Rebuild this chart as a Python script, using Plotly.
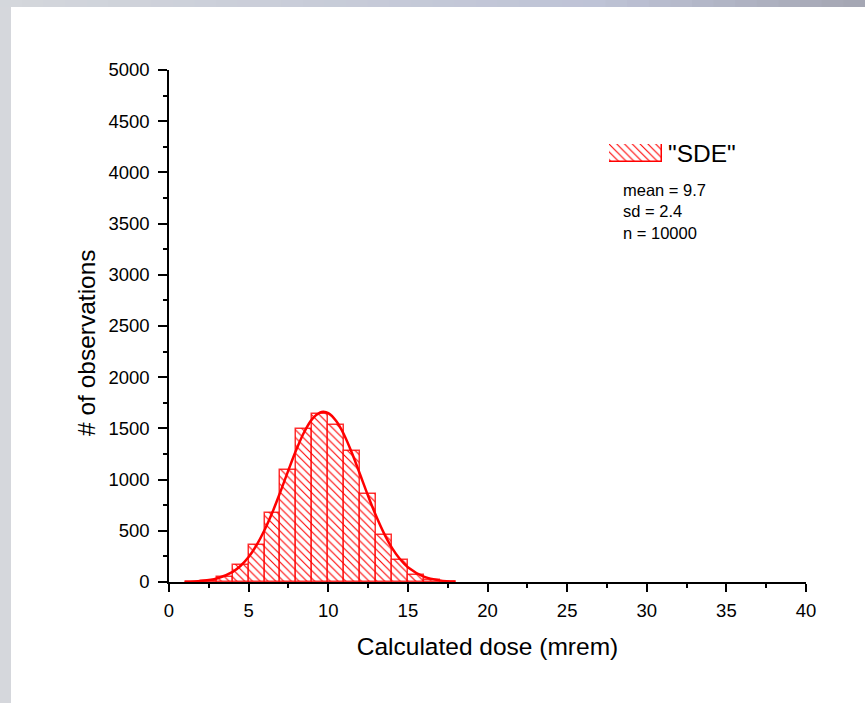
import plotly.graph_objects as go

# ---- data ----
bin_centers = [1.5, 2.5, 3.5, 4.5, 5.5, 6.5, 7.5, 8.5, 9.5, 10.5, 11.5, 12.5, 13.5, 14.5, 15.5, 16.5, 17.5]
counts = [3, 10, 50, 163, 361, 671, 1091, 1492, 1642, 1531, 1283, 863, 459, 215, 68, 16, 3]

fit_x = [1, 2, 3, 4, 4.5, 5, 5.5, 6, 6.5, 7, 7.5, 8, 8.5, 9, 9.5, 9.7, 10, 10.5, 11, 11.5,
         12, 12.5, 13, 13.5, 14, 14.5, 15, 16, 17, 18]
fit_y = [2, 10, 34, 99, 159, 244, 360, 507, 683, 883, 1092, 1293, 1467, 1593, 1656, 1662, 1649, 1572,
         1436, 1255, 1050, 842, 646, 475, 334, 225, 145, 53, 16, 4]

x_ticks = [0, 5, 10, 15, 20, 25, 30, 35, 40]
y_ticks = [0, 500, 1000, 1500, 2000, 2500, 3000, 3500, 4000, 4500, 5000]
series_name = '"SDE"'
stats_text = "mean = 9.7<br>sd = 2.4<br>n = 10000"
x_title = "Calculated dose (mrem)"
y_title = "# of observations"

FONT = "Liberation Sans, Arial, sans-serif"
RED = "#ff0000"
PATTERN = dict(shape="\\", fgcolor=RED, bgcolor="white", size=5.5, solidity=0.2, fillmode="replace")

# page geometry (pixels)
W, H = 865, 703
L, R, T, B = 169, 806, 70, 582
pw, ph = R - L, B - T

def px_x(px):
    return (px - L) / pw

def px_y(py):
    return (B - py) / ph

fig = go.Figure()
fig.add_trace(go.Bar(
    x=bin_centers, y=counts, width=1, name=series_name,
    marker=dict(color="white", line=dict(color="rgba(255,0,0,0.8)", width=1.5), pattern=PATTERN),
    showlegend=False,
))
fig.add_trace(go.Scatter(
    x=fit_x, y=fit_y, mode="lines", line=dict(color=RED, width=2.5, shape="spline"),
    showlegend=False, hoverinfo="skip",
))
# legend key swatch (drawn in its own small hidden axes)
fig.add_trace(go.Bar(
    x=[0], y=[1], width=1, xaxis="x2", yaxis="y2", showlegend=False, hoverinfo="skip",
    marker=dict(color="white", line=dict(color=RED, width=1.5), pattern=PATTERN),
))

# decorative frame (grey bars at top and left of the page)
shapes = []
n_seg = 40
c0 = (212, 215, 220)
c1 = (190, 195, 214)
c2 = (165, 167, 180)
for i in range(n_seg):
    t = i / (n_seg - 1)
    if t < 0.7:
        u = t / 0.7
        c = tuple(int(c0[k] + (c1[k] - c0[k]) * u) for k in range(3))
    else:
        u = (t - 0.7) / 0.3
        c = tuple(int(c1[k] + (c2[k] - c1[k]) * u) for k in range(3))
    shapes.append(dict(type="rect", xref="paper", yref="paper",
                       x0=px_x(i * W / n_seg), x1=px_x((i + 1) * W / n_seg + 1),
                       y0=px_y(-1), y1=px_y(7),
                       fillcolor="rgb(%d,%d,%d)" % c, line=dict(width=0), layer="below"))
shapes.append(dict(type="rect", xref="paper", yref="paper",
                   x0=px_x(-1), x1=px_x(11), y0=px_y(7), y1=px_y(H + 1),
                   fillcolor="rgb(213,215,220)", line=dict(width=0), layer="below"))

fig.update_layout(
    width=W, height=H,
    margin=dict(l=L, r=W - R, t=T, b=H - B),
    paper_bgcolor="white", plot_bgcolor="white",
    bargap=0,
    font=dict(family=FONT, color="black", size=18),
    shapes=shapes,
    showlegend=False,
    annotations=[
        dict(text=stats_text, xref="paper", yref="paper", x=px_x(621), y=px_y(179),
             xanchor="left", yanchor="top", align="left", showarrow=False,
             font=dict(size=16.5, family=FONT)),
        dict(text=series_name, xref="paper", yref="paper", x=px_x(666), y=px_y(153),
             xanchor="left", yanchor="middle", align="left", showarrow=False,
             font=dict(size=24.5, family=FONT)),
        dict(text=y_title, xref="paper", yref="paper", x=px_x(86), y=px_y(343),
             xanchor="center", yanchor="middle", textangle=-90, showarrow=False,
             font=dict(size=24.5, family=FONT)),
    ],
    xaxis=dict(range=[0, 40], tickvals=x_ticks, ticktext=[str(v) for v in x_ticks],
               showline=True, linecolor="black", linewidth=1.5, ticks="outside", ticklen=8, tickwidth=1.5,
               tickcolor="black", showgrid=False, zeroline=False, ticklabelstandoff=3,
               minor=dict(dtick=2.5, ticks="outside", ticklen=4, tickwidth=1.5, tickcolor="black"),
               title=dict(text=x_title, font=dict(size=24.5), standoff=18),
               tickfont=dict(size=18.5)),
    yaxis=dict(range=[0, 5000], tickvals=y_ticks, ticktext=[str(v) for v in y_ticks],
               showline=True, linecolor="black", linewidth=1.5, ticks="outside", ticklen=9, tickwidth=1.5,
               tickcolor="black", showgrid=False, zeroline=False, ticklabelstandoff=5,
               minor=dict(dtick=250, ticks="outside", ticklen=4, tickwidth=1.5, tickcolor="black"),
               tickfont=dict(size=18.5)),
    xaxis2=dict(domain=[px_x(609), px_x(662)], range=[-0.5, 0.5], visible=False, anchor="y2", fixedrange=True),
    yaxis2=dict(domain=[px_y(162), px_y(144)], range=[0, 1], visible=False, anchor="x2", fixedrange=True),
)

fig.write_html("out.html", config={"displayModeBar": False},
               post_script="document.body.style.margin='0px';")
